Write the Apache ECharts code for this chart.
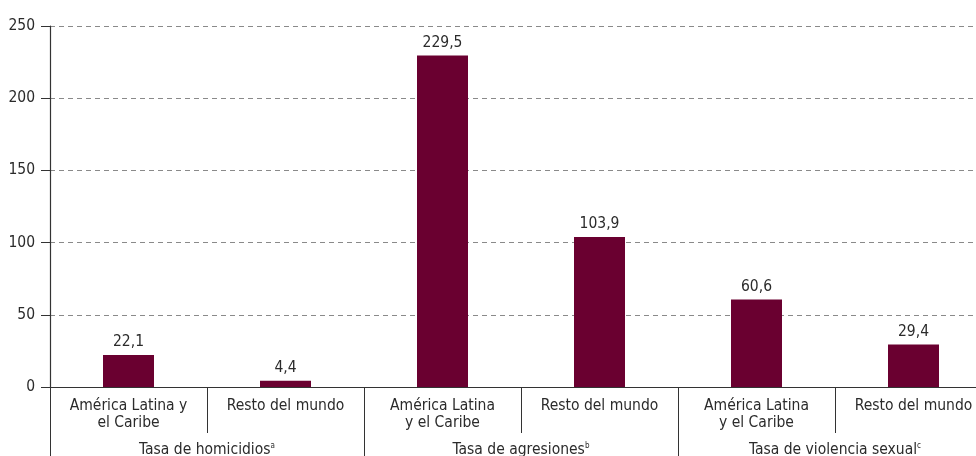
<!DOCTYPE html>
<html>
<head>
<meta charset="utf-8">
<script src="https://cdn.jsdelivr.net/npm/echarts@6/dist/echarts.min.js"></script>
<style>
  html, body { margin: 0; padding: 0; background: #ffffff; }
  #chart { width: 976px; height: 456px; }
</style>
</head>
<body>
<div id="chart"></div>
<script>
const categories = [
  'América Latina y\nel Caribe', 'Resto del mundo',
  'América Latina\ny el Caribe', 'Resto del mundo',
  'América Latina\ny el Caribe', 'Resto del mundo'
];
const values = [22.1, 4.4, 229.5, 103.9, 60.6, 29.4];
const groups = ['Tasa de homicidios', 'Tasa de agresiones', 'Tasa de violencia sexual'];
const groupNotes = ['a', 'b', 'c'];
const yTicks = [0, 50, 100, 150, 200, 250];

const font = "'Liberation Sans Narrow', 'DejaVu Sans Condensed', sans-serif";
const textColor = '#2b2b2b';
const lineColor = '#333333';

const chart = echarts.init(document.getElementById('chart'), null, { renderer: 'canvas' });
chart.setOption({
  animation: false,
  textStyle: { fontFamily: font },
  grid: { left: 50, top: 26, right: -16, bottom: 69, outerBoundsMode: 'none' },
  xAxis: [{
    type: 'category',
    data: categories,
    position: 'bottom',
    axisLine: { lineStyle: { color: lineColor, width: 1.2 } },
    axisTick: { show: true, length: 46, lineStyle: { color: lineColor } },
    axisLabel: {
      interval: 0, margin: 10, color: textColor, fontFamily: font,
      fontSize: 15.5, lineHeight: 17
    }
  }, {
    type: 'category',
    data: groups,
    position: 'bottom',
    axisLine: { show: false },
    axisTick: { show: true, length: 70, lineStyle: { color: lineColor } },
    axisLabel: {
      interval: 0, margin: 55, color: textColor, fontFamily: font, fontSize: 15.5,
      formatter: (v, i) => v + '{sup|' + groupNotes[i] + '}',
      rich: { sup: { fontSize: 8, verticalAlign: 'top', color: textColor, fontFamily: font, padding: [0, 0, 8, 0] } }
    }
  }],
  yAxis: {
    type: 'value',
    min: yTicks[0], max: yTicks[yTicks.length - 1], interval: 50,
    axisLine: { show: true, lineStyle: { color: lineColor, width: 1.2 } },
    axisTick: { show: true, length: 9, lineStyle: { color: lineColor } },
    axisLabel: { color: textColor, fontFamily: font, fontSize: 15.5, margin: 15 },
    splitLine: { lineStyle: { color: '#8a8a8a', type: [5, 4], width: 1 } }
  },
  series: [{
    type: 'bar',
    data: values,
    barWidth: 51,
    itemStyle: { color: '#6a0030' },
    label: {
      show: true, position: 'top', distance: 5, color: textColor,
      fontFamily: font, fontSize: 15.5,
      formatter: p => p.value.toFixed(1).replace('.', ',')
    }
  }]
});
</script>
</body>
</html>
